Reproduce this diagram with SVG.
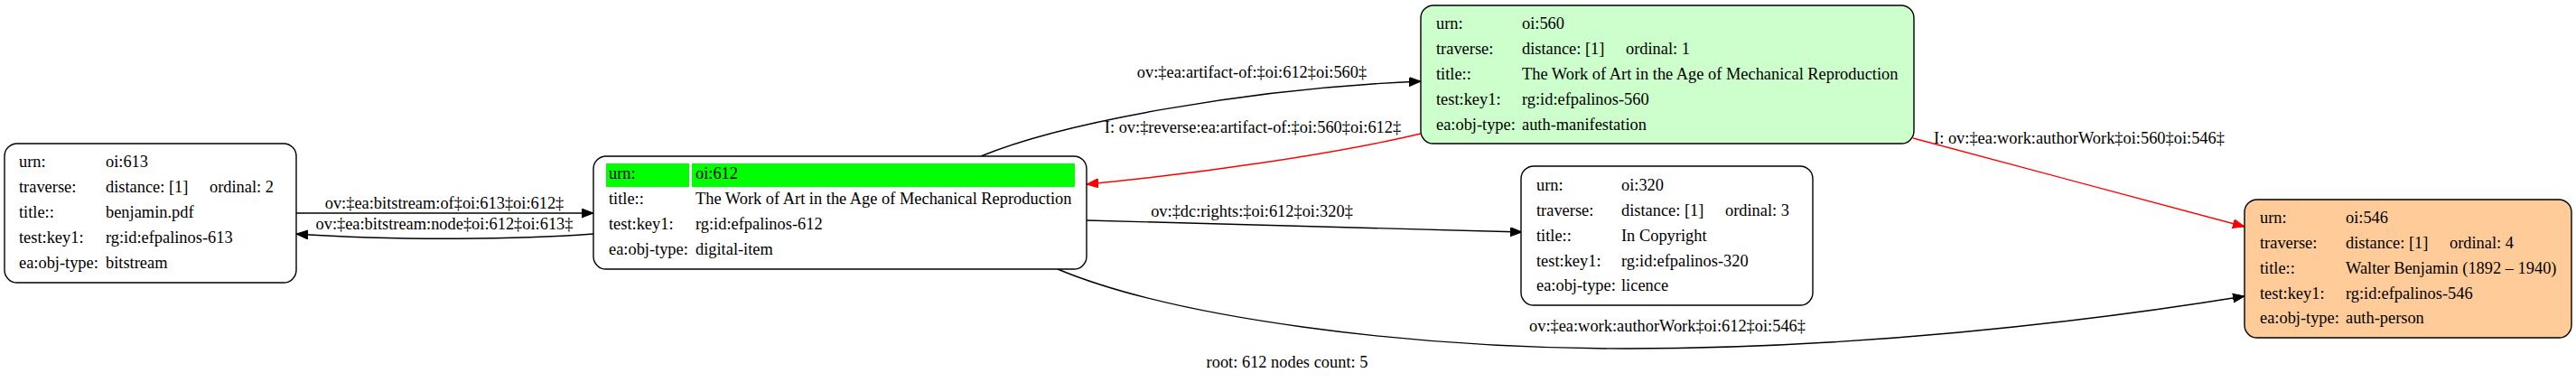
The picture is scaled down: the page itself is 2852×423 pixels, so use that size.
<svg xmlns="http://www.w3.org/2000/svg" width="2852" height="423" viewBox="0 0 2852 423">
<style>
text{font-family:"Liberation Serif","Times New Roman",serif;font-size:18.4px;fill:#000}
.box{stroke:#000;stroke-width:1.4}
.lbl{text-anchor:middle}
.e{fill:none;stroke:#000;stroke-width:1.4}
.r{fill:none;stroke:#ff0000;stroke-width:1.4}
</style>
<defs>
<marker id="ah" markerUnits="userSpaceOnUse" markerWidth="16" markerHeight="12" refX="13" refY="5" orient="auto"><path d="M0,0 L13,5 L0,10 Z" fill="#000" stroke="#000" stroke-width="1"/></marker>
<marker id="ahr" markerUnits="userSpaceOnUse" markerWidth="16" markerHeight="12" refX="13" refY="5" orient="auto"><path d="M0,0 L13,5 L0,10 Z" fill="#ff0000" stroke="#ff0000" stroke-width="1"/></marker>
</defs>
<rect width="2852" height="423" fill="#fff"/>
<g id="connectors">
<path class="e" d="M328,236 L657,236" marker-end="url(#ah)"/>
<text class="lbl" x="492" y="231">ov:‡ea:bitstream:of‡oi:613‡oi:612‡</text>
<path class="e" d="M657,259 C560,266 430,266 328,259" marker-end="url(#ah)"/>
<text class="lbl" x="492" y="254">ov:‡ea:bitstream:node‡oi:612‡oi:613‡</text>
<path class="e" d="M1086,173 C1175,136 1380,98 1573,90" marker-end="url(#ah)"/>
<text class="lbl" x="1386" y="86">ov:‡ea:artifact-of:‡oi:612‡oi:560‡</text>
<path class="r" d="M1573,148 C1480,170 1330,192 1203,204" marker-end="url(#ahr)"/>
<text class="lbl" x="1387" y="147">I: ov:‡reverse:ea:artifact-of:‡oi:560‡oi:612‡</text>
<path class="e" d="M1203,244 L1685,257" marker-end="url(#ah)"/>
<text class="lbl" x="1386" y="240">ov:‡dc:rights:‡oi:612‡oi:320‡</text>
<path class="e" d="M1171,298 C1300,352 1560,386 1800,386 C2050,386 2300,358 2485,328" marker-end="url(#ah)"/>
<text class="lbl" x="1846" y="367">ov:‡ea:work:authorWork‡oi:612‡oi:546‡</text>
<path class="r" d="M2118,153 L2485,251" marker-end="url(#ahr)"/>
<text class="lbl" x="2302" y="159">I: ov:‡ea:work:authorWork‡oi:560‡oi:546‡</text>
</g>
<g id="node-613">
<rect class="box" x="5" y="159" width="323" height="154" rx="14" fill="#fff"/>
<text x="21" y="185">urn:</text><text x="117" y="185">oi:613</text>
<text x="21" y="213">traverse:</text><text x="117" y="213">distance: [1]</text><text x="232" y="213">ordinal: 2</text>
<text x="21" y="241">title::</text><text x="117" y="241">benjamin.pdf</text>
<text x="21" y="269">test:key1:</text><text x="117" y="269">rg:id:efpalinos-613</text>
<text x="21" y="297">ea:obj-type:</text><text x="117" y="297">bitstream</text>
</g>
<g id="node-612">
<rect class="box" x="657" y="173" width="546" height="125" rx="14" fill="#fff"/>
<rect x="671" y="181" width="92" height="26" fill="#00ff00"/>
<rect x="766" y="181" width="424" height="26" fill="#00ff00"/>
<text x="674" y="198">urn:</text><text x="770" y="198">oi:612</text>
<text x="674" y="226">title::</text><text x="770" y="226">The Work of Art in the Age of Mechanical Reproduction</text>
<text x="674" y="254">test:key1:</text><text x="770" y="254">rg:id:efpalinos-612</text>
<text x="674" y="282">ea:obj-type:</text><text x="770" y="282">digital-item</text>
</g>
<g id="node-560">
<rect class="box" x="1573" y="6" width="546" height="153" rx="14" fill="#ccffcc"/>
<text x="1590" y="32">urn:</text><text x="1685" y="32">oi:560</text>
<text x="1590" y="60">traverse:</text><text x="1685" y="60">distance: [1]</text><text x="1800" y="60">ordinal: 1</text>
<text x="1590" y="88">title::</text><text x="1685" y="88">The Work of Art in the Age of Mechanical Reproduction</text>
<text x="1590" y="116">test:key1:</text><text x="1685" y="116">rg:id:efpalinos-560</text>
<text x="1590" y="144">ea:obj-type:</text><text x="1685" y="144">auth-manifestation</text>
</g>
<g id="node-320">
<rect class="box" x="1684" y="184" width="323" height="154" rx="14" fill="#fff"/>
<text x="1701" y="211">urn:</text><text x="1795" y="211">oi:320</text>
<text x="1701" y="239">traverse:</text><text x="1795" y="239">distance: [1]</text><text x="1910" y="239">ordinal: 3</text>
<text x="1701" y="267">title::</text><text x="1795" y="267">In Copyright</text>
<text x="1701" y="295">test:key1:</text><text x="1795" y="295">rg:id:efpalinos-320</text>
<text x="1701" y="322">ea:obj-type:</text><text x="1795" y="322">licence</text>
</g>
<g id="node-546">
<rect class="box" x="2485" y="221" width="362" height="153" rx="14" fill="#ffcc99"/>
<text x="2502" y="247">urn:</text><text x="2597" y="247">oi:546</text>
<text x="2502" y="275">traverse:</text><text x="2597" y="275">distance: [1]</text><text x="2712" y="275">ordinal: 4</text>
<text x="2502" y="303">title::</text><text x="2597" y="303">Walter Benjamin (1892 – 1940)</text>
<text x="2502" y="331">test:key1:</text><text x="2597" y="331">rg:id:efpalinos-546</text>
<text x="2502" y="358">ea:obj-type:</text><text x="2597" y="358">auth-person</text>
</g>
<text class="lbl" x="1425" y="407">root: 612 nodes count: 5</text>
</svg>
